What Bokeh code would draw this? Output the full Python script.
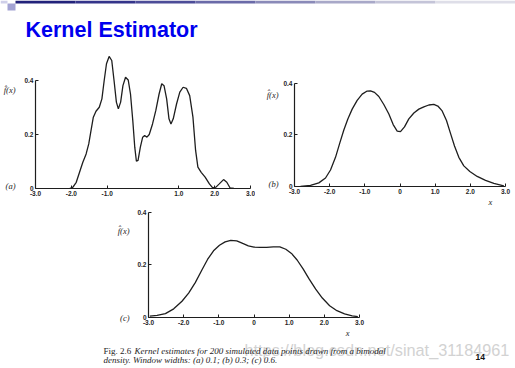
from bokeh.plotting import figure
from bokeh.layouts import column, row
from bokeh.models import Label, FixedTicker, Range1d, CustomJSTickFormatter, LinearAxis
from bokeh.embed import file_html
from bokeh.resources import INLINE

# ---------------- data ----------------
title_text = "Kernel Estimator"
ylabel_text = "f\u0302(x)"
xlabel_text = "x"
panel_tags = ["(a)", "(b)", "(c)"]
caption_head = "Fig. 2.6"
caption_line1 = "Kernel estimates for 200 simulated data points drawn from a bimodal"
caption_line2 = "density. Window widths: (a) 0.1; (b) 0.3; (c) 0.6."
page_number = "14"
watermark = "https://blog.csdn.net/sinat_31184961"

ticks_x_a = [-3, -2, -1, 1, 2, 3]
ticks_x_bc = [-3, -2, -1, 0, 1, 2, 3]
ticks_y = [0, 0.2, 0.4]

# (a) window width 0.1
xa = [-2.046, -1.955, -1.863, -1.771, -1.679, -1.587, -1.514, -1.450, -1.386, -1.312,
      -1.220, -1.147, -1.083, -1.019, -0.945, -0.872, -0.808, -0.743, -0.688, -0.624,
      -0.560, -0.487, -0.413, -0.349, -0.285, -0.230, -0.184, -0.138, -0.074, -0.009,
      0.046, 0.110, 0.174, 0.266, 0.358, 0.449, 0.523, 0.587, 0.660, 0.725,
      0.780, 0.844, 0.936, 1.027, 1.119, 1.211, 1.303, 1.394, 1.468, 1.532,
      1.624, 1.734, 1.853, 1.945, 2.037, 2.128, 2.248, 2.339, 2.431, 2.541]
ya = [0.000, 0.005, 0.023, 0.060, 0.097, 0.128, 0.165, 0.215, 0.264, 0.286,
      0.301, 0.332, 0.400, 0.462, 0.489, 0.474, 0.400, 0.320, 0.295, 0.320,
      0.381, 0.412, 0.402, 0.350, 0.252, 0.153, 0.101, 0.104, 0.153, 0.190,
      0.196, 0.190, 0.200, 0.239, 0.289, 0.350, 0.388, 0.381, 0.332, 0.258,
      0.239, 0.258, 0.313, 0.357, 0.375, 0.371, 0.344, 0.264, 0.141, 0.079,
      0.060, 0.042, 0.017, 0.002, 0.005, 0.017, 0.033, 0.023, 0.002, 0.000]

# (b) window width 0.3
xb = [-2.829, -2.545, -2.308, -2.118, -1.976, -1.834, -1.711, -1.597, -1.483, -1.360,
      -1.218, -1.076, -0.934, -0.839, -0.725, -0.602, -0.460, -0.317, -0.194, -0.080,
      0.014, 0.128, 0.251, 0.394, 0.536, 0.678, 0.820, 0.962, 1.076, 1.199,
      1.322, 1.436, 1.550, 1.673, 1.815, 1.986, 2.195, 2.432, 2.668, 2.953]
yb = [0.000, 0.004, 0.014, 0.033, 0.064, 0.113, 0.169, 0.219, 0.262, 0.300,
      0.334, 0.358, 0.370, 0.371, 0.365, 0.349, 0.318, 0.281, 0.240, 0.215,
      0.213, 0.231, 0.262, 0.285, 0.300, 0.309, 0.316, 0.318, 0.312, 0.293,
      0.256, 0.206, 0.157, 0.113, 0.080, 0.058, 0.039, 0.024, 0.012, 0.002]

# (c) window width 0.6
xc = [-2.963, -2.755, -2.519, -2.283, -2.048, -1.859, -1.670, -1.482, -1.321, -1.151,
      -0.982, -0.821, -0.661, -0.491, -0.321, -0.161, 0.000, 0.169, 0.358, 0.547,
      0.735, 0.905, 1.066, 1.226, 1.396, 1.566, 1.754, 1.943, 2.151, 2.358,
      2.575, 2.792, 2.952]
yc = [0.005, 0.008, 0.015, 0.033, 0.062, 0.093, 0.133, 0.181, 0.221, 0.254,
      0.275, 0.288, 0.294, 0.292, 0.282, 0.273, 0.268, 0.267, 0.267, 0.269,
      0.269, 0.260, 0.244, 0.219, 0.185, 0.147, 0.108, 0.074, 0.045, 0.026,
      0.014, 0.006, 0.003]

# where the side texts sit on each panel's own scales
tag_y = [0.01, 0.01, 0.0]
ylabel_y = [0.363, 0.355, 0.33]
xlabel_x = [None, 2.57, 2.66]
tag_standoff = [6, 2, 5]

# slide decoration (top strip)
decor_left = [7, 0, 15, 75, 135, 195, 255, 315, 375, 435]
decor_right = [15, 7, 75, 135, 195, 255, 315, 375, 435, 515]
decor_top = [45, 48, 48, 48, 48, 48, 48, 48, 48, 48]
decor_bottom = [38, 45, 45, 45, 45, 45, 45, 45, 45, 45]
decor_color = ["#a3a3d3", "#cfcfe9", "#22227a", "#34348a", "#4c4c98", "#6a6aa8",
               "#8a8ab8", "#a8a8c8", "#c4c4d8", "#dedee8"]

INK = "#1e1e1e"
FMT = CustomJSTickFormatter(code="return tick == 0 ? '0' : tick.toFixed(1);")


def pick(tvals, labels):
    return CustomJSTickFormatter(args=dict(tv=tvals, lv=labels), code="""
        let best = 0;
        for (let i = 0; i < tv.length; i++)
            if (Math.abs(tv[i] - tick) < Math.abs(tv[best] - tick)) best = i;
        return lv[best];""")


def text_axis(tvals, labels, standoff):
    ax = LinearAxis(ticker=FixedTicker(ticks=tvals), formatter=pick(tvals, labels))
    ax.axis_line_color = None
    ax.major_tick_line_color = None
    ax.minor_tick_line_color = None
    ax.major_tick_in = 0
    ax.major_tick_out = 0
    ax.minor_tick_in = 0
    ax.minor_tick_out = 0
    ax.major_label_standoff = standoff
    ax.major_label_text_font = "Liberation Serif"
    ax.major_label_text_font_style = "italic"
    ax.major_label_text_font_size = "8.5px"
    ax.major_label_text_color = INK
    return ax


def panel(width, height, bl, br, bt, bb, y_end, xticks, k):
    p = figure(width=width, height=height, x_range=Range1d(-3, 3), y_range=Range1d(0, y_end),
               output_backend="svg", toolbar_location=None, title=None,
               min_border_left=bl, min_border_right=br, min_border_top=bt, min_border_bottom=bb)
    p.grid.visible = False
    p.outline_line_color = None
    p.background_fill_color = "white"
    p.border_fill_color = "white"
    p.xaxis.ticker = FixedTicker(ticks=xticks)
    p.yaxis.ticker = FixedTicker(ticks=ticks_y)
    for ax in (p.xaxis[0], p.yaxis[0]):
        ax.formatter = FMT
        ax.axis_line_color = INK
        ax.axis_line_width = 1.2
        ax.major_tick_line_color = INK
        ax.major_tick_line_width = 1
        ax.major_tick_in = 3
        ax.major_tick_out = 0
        ax.minor_tick_line_color = None
        ax.minor_tick_in = 0
        ax.minor_tick_out = 0
        ax.major_label_standoff = 2
        ax.major_label_text_font = "Liberation Sans"
        ax.major_label_text_font_size = "6.5px"
        ax.major_label_text_font_style = "bold"
        ax.major_label_text_color = INK
    p.xaxis.bounds = (-3, 3)
    p.yaxis.bounds = (0, 0.4)
    p.add_layout(text_axis([tag_y[k], ylabel_y[k]], [panel_tags[k], ylabel_text],
                           tag_standoff[k]), "left")
    if xlabel_x[k] is not None:
        p.add_layout(text_axis([xlabel_x[k]], [xlabel_text], 0), "below")
    return p


def strip(height):
    s = figure(width=515, height=height, x_range=Range1d(0, 515), y_range=Range1d(0, height),
               x_axis_location=None, y_axis_location=None, output_backend="svg",
               toolbar_location=None, title=None, min_border=0)
    s.grid.visible = False
    s.outline_line_color = None
    s.background_fill_color = "white"
    s.border_fill_color = "white"
    return s


def tag(p, text, x, y, size="9px", align="left", style="italic", font="Liberation Serif",
        color=INK, baseline="middle"):
    p.add_layout(Label(x=x, y=y, x_units="screen", y_units="screen", text=text,
                       text_font=font, text_font_size=size, text_font_style=style,
                       text_color=color, text_align=align, text_baseline=baseline))


# ---- title strip: y 0..48
ts = strip(48)
ts.quad(left=decor_left, right=decor_right, top=decor_top, bottom=decor_bottom,
        fill_color=decor_color, line_color=None)
tag(ts, title_text, 25, 19, size="21.5px", style="bold", font="Liberation Sans",
    color="#0000EE", baseline="alphabetic")

# ---- panel (a): x 0..255, y 48..209
pa = panel(255, 161, 32, 5, 5, 21, 0.5, ticks_x_a, 0)
pa.line(xa, ya, line_color=INK, line_width=1.3)

# ---- panel (b): x 255..515, y 48..209
pb = panel(260, 161, 39, 10, 30, 19, 0.4187, ticks_x_bc, 1)
pb.line(xb, yb, line_color=INK, line_width=1.3)

# ---- panel (c): x 0..515, y 209..340
pc = panel(515, 131, 148, 156, 1, 22, 0.4075, ticks_x_bc, 2)
pc.line(xc, yc, line_color=INK, line_width=1.3)

# ---- caption strip: y 340..368
cs = strip(28)
tag(cs, watermark, 244, 19, size="16.3px", style="normal", font="Liberation Sans", color="#d2d2d2")
tag(cs, caption_head, 103, 18, style="normal")
tag(cs, caption_line1, 134, 18)
tag(cs, caption_line2, 103, 8.5)
tag(cs, page_number, 475, 12, size="8.5px", style="bold", font="Liberation Sans", color="#111111")

layout = column(row(ts), row(column(pa), column(pb)), row(pc), row(cs))
open("out.html", "w").write(file_html(layout, INLINE))
